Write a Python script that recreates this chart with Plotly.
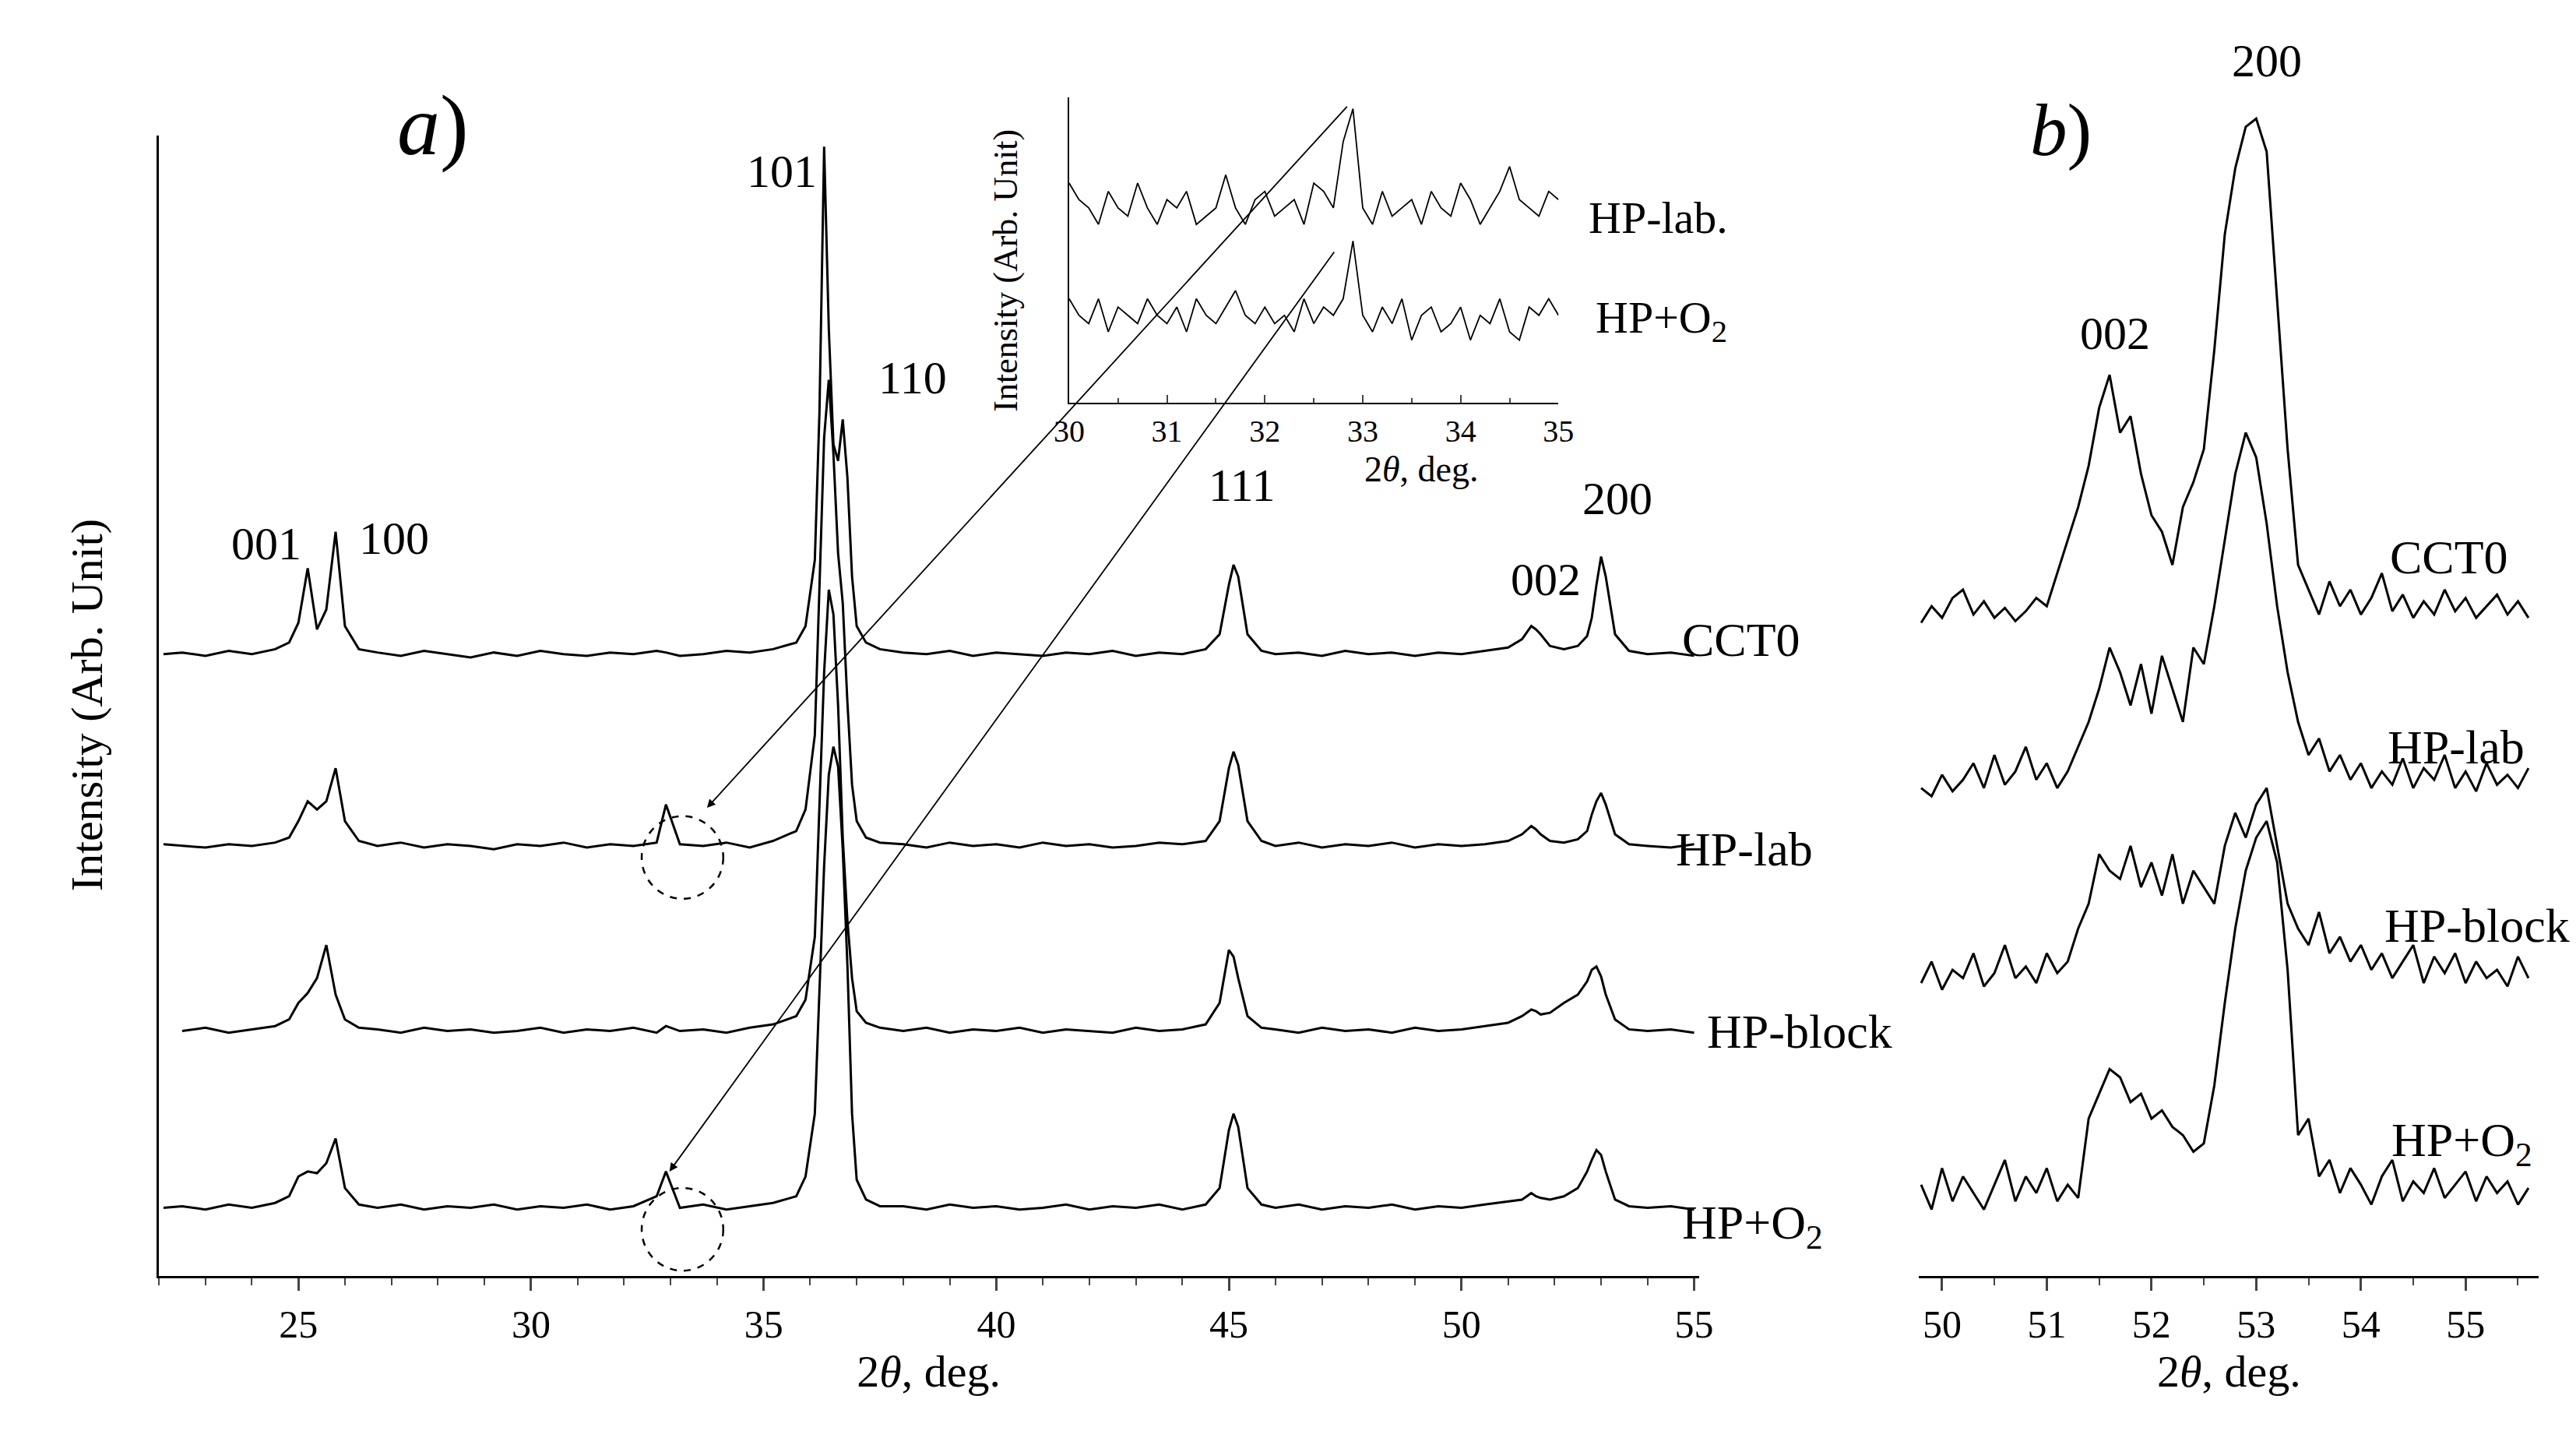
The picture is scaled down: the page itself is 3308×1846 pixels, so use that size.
"""XRD patterns: panel a (wide scan), inset (30-35 deg), panel b (50-55.7 deg)."""
import numpy as np
import plotly.graph_objects as go

FONT = "Liberation Serif"
W, H = 1560, 870  # layout drawn in reference pixel units, scaled on output

# panel a grid (2theta, deg)
X_A = [22.1, 22.5, 23.0, 23.5, 24.0, 24.5,
       24.8, 25.0, 25.2, 25.4, 25.6, 25.8, 26.0, 26.3,
       26.7, 27.2, 27.7, 28.2, 28.7, 29.2, 29.7, 30.2, 30.7, 31.2, 31.7, 32.2,
       32.7, 32.9, 33.2, 33.7, 34.2, 34.7, 35.2, 35.7,
       35.9, 36.1, 36.2, 36.3, 36.4, 36.5, 36.6, 36.7, 36.8, 36.9, 37.0, 37.2, 37.5,
       38.0, 38.5, 39.0, 39.5, 40.0, 40.5, 41.0, 41.5, 42.0, 42.5, 43.0, 43.5, 44.0, 44.5,
       44.8, 45.0, 45.1, 45.2, 45.4, 45.7,
       46.0, 46.5, 47.0, 47.5, 48.0, 48.5, 49.0, 49.5, 50.0, 50.5, 51.0,
       51.3, 51.5, 51.6, 51.7, 51.9, 52.2, 52.5, 52.7, 52.8, 52.9, 53.0, 53.1, 53.3, 53.6,
       54.0, 54.5, 55.0]

CCT0_A = [3, 4, 2, 5, 3, 6,
          10, 22, 55, 18, 30, 77, 20, 6,
          4, 2, 5, 3, 1, 4, 2, 5, 3, 2, 4, 3, 5, 4, 2, 3, 5, 4, 6, 10,
          20, 60, 150, 310, 200, 130, 120, 145, 110, 50, 20, 10, 6,
          4, 3, 5, 2, 4, 3, 2, 4, 3, 5, 2, 4, 3, 6,
          15, 45, 57, 50, 15, 5,
          3, 4, 2, 5, 3, 4, 2, 4, 3, 5, 7,
          12, 20, 18, 15, 8, 6, 8, 14, 25, 45, 62, 50, 15, 5,
          3, 4, 2]
HPLAB_A = [4, 3, 2, 4, 3, 5,
           8, 18, 30, 25, 30, 50, 18, 6,
           3, 5, 2, 4, 3, 1, 4, 3, 5, 2, 4, 3, 5, 28, 4, 3, 5, 2, 6, 12,
           25, 70, 160, 250, 285, 240, 180, 150, 90, 40, 18, 8, 5,
           4, 2, 5, 3, 4, 2, 5, 3, 4, 2, 3, 5, 4, 6,
           18, 50, 60, 52, 18, 6,
           3, 5, 2, 4, 3, 5, 2, 4, 3, 4, 6,
           10, 15, 13, 10, 6, 5, 7, 12, 22, 30, 35, 28, 10, 4,
           3, 2, 4]
HPBLOCK_A = [None, 3, 5, 2, 4, 6,
             10, 20, 26, 35, 55, 25, 10, 5,
             4, 2, 5, 3, 4, 2, 3, 5, 2, 4, 3, 5, 2, 6, 3, 4, 2, 5, 7, 12,
             22, 60, 140, 220, 270, 255, 200, 120, 70, 35, 15, 8, 5,
             3, 5, 2, 4, 3, 5, 2, 4, 3, 2, 5, 3, 4, 7,
             20, 52, 48, 35, 12, 5,
             4, 2, 5, 3, 4, 2, 5, 3, 4, 6, 8,
             12, 16, 15, 13, 14, 20, 25, 33, 40, 42, 36, 25, 10, 4,
             3, 4, 2]
HPO2_A = [3, 4, 2, 5, 3, 6,
          10, 22, 25, 24, 30, 45, 15, 5,
          3, 5, 2, 4, 3, 5, 2, 4, 3, 5, 2, 4, 10, 25, 3, 5, 2, 4, 6, 10,
          22, 60, 140, 210, 265, 282, 270, 220, 150, 60, 20, 8, 4,
          4, 2, 5, 3, 4, 2, 3, 5, 2, 4, 3, 5, 2, 5,
          15, 50, 60, 52, 15, 5,
          3, 5, 2, 4, 3, 5, 2, 4, 3, 5, 7,
          8, 12, 10, 9, 8, 10, 15, 25, 32, 38, 35, 25, 8, 4,
          3, 4, 2]

# panel b grid: 49.8 .. 55.6, step 0.1
X_B = np.round(np.arange(49.8, 55.65, 0.1), 1)
CCT0_B = [5, 15, 8, 20, 25, 10, 18, 8, 14, 6,
          12, 20, 15, 35, 55, 75, 100, 135, 155, 120,
          130, 95, 70, 60, 40, 75, 90, 110, 170, 240,
          280, 305, 310, 290, 200, 110, 40, 25, 10, 30,
          15, 25, 10, 20, 35, 12, 22, 8, 18, 10,
          25, 12, 20, 8, 15, 22, 10, 18, 8]
HPLAB_B = [10, 5, 18, 8, 15, 25, 10, 30, 12, 20,
           35, 15, 25, 10, 20, 35, 50, 70, 95, 80,
           60, 85, 55, 90, 70, 50, 95, 85, 120, 160,
           200, 225, 210, 170, 120, 80, 50, 30, 40, 20,
           30, 15, 25, 10, 20, 12, 28, 10, 22, 15,
           30, 10, 20, 8, 25, 12, 18, 10, 22]
HPBLOCK_B = [12, 25, 8, 20, 15, 30, 10, 18, 35, 15,
             22, 12, 30, 18, 25, 45, 60, 90, 80, 75,
             95, 70, 85, 65, 90, 60, 80, 70, 60, 95,
             115, 100, 120, 130, 95, 60, 45, 35, 55, 30,
             40, 25, 35, 20, 30, 15, 25, 35, 12, 28,
             18, 30, 12, 25, 15, 20, 10, 28, 15]
HPO2_B = [20, 5, 30, 10, 25, 15, 5, 20, 35, 10,
          25, 15, 30, 10, 20, 12, 60, 75, 90, 85,
          70, 75, 60, 65, 55, 50, 40, 45, 80, 130,
          175, 210, 230, 240, 215, 150, 50, 60, 25, 35,
          15, 30, 20, 8, 25, 35, 10, 22, 15, 30,
          12, 20, 28, 10, 25, 15, 22, 8, 18]

# inset grid: 30 .. 35, step 0.1
X_IN = np.round(np.arange(30.0, 35.05, 0.1), 1)
HPLAB_IN = [165, 155, 150, 140, 160, 150, 145, 165, 150, 140,
            155, 150, 160, 140, 145, 150, 170, 150, 140, 155,
            160, 145, 150, 155, 140, 165, 160, 150, 190, 210,
            150, 140, 160, 145, 150, 155, 140, 160, 150, 145,
            165, 155, 140, 150, 160, 175, 155, 150, 145, 160,
            155]
HPO2_IN = [95, 85, 80, 95, 75, 90, 85, 80, 95, 85,
           80, 90, 75, 95, 85, 80, 90, 100, 85, 80,
           90, 80, 85, 75, 95, 80, 90, 85, 95, 130,
           85, 75, 90, 80, 95, 70, 85, 90, 75, 80,
           90, 70, 85, 80, 95, 75, 70, 90, 85, 95,
           85]

OFFS_A = [373, 257, 145, 38]
OFFS_B = [390, 285, 165, 35]
NAMES = ["CCT0", "HP-lab", "HP-block", "HP+O<sub>2</sub>"]

BOT = 768  # bottom axis, reference px
XA_RANGE = [22.0, 55.1]
XA_DOM = [84, 1028]


def px(x):
    return x / W


def py(y):
    return 1 - y / H


LINE = dict(color="black", width=3)
fig = go.Figure()
for ys, off in zip([CCT0_A, HPLAB_A, HPBLOCK_A, HPO2_A], OFFS_A):
    fig.add_trace(go.Scatter(x=X_A, y=[None if v is None else v + off for v in ys],
                             mode="lines", line=LINE, xaxis="x", yaxis="y",
                             showlegend=False))
for ys, off in zip([CCT0_B, HPLAB_B, HPBLOCK_B, HPO2_B], OFFS_B):
    fig.add_trace(go.Scatter(x=X_B, y=[v + off for v in ys], mode="lines",
                             line=LINE, xaxis="x2", yaxis="y2", showlegend=False))
for ys in [HPLAB_IN, HPO2_IN]:
    fig.add_trace(go.Scatter(x=X_IN, y=ys, mode="lines",
                             line=dict(color="black", width=1.8),
                             xaxis="x3", yaxis="y3", showlegend=False))

tickfont = dict(family=FONT, size=50, color="black")
common_x = dict(showline=True, linecolor="black", linewidth=3, ticks="outside",
                ticklen=16, tickwidth=3, showgrid=False, zeroline=False,
                tickfont=tickfont, title_font=dict(family=FONT, size=58, color="black"),
                title_standoff=0)
fig.update_layout(
    width=3308, height=1846, paper_bgcolor="white", plot_bgcolor="white",
    margin=dict(l=0, r=0, t=0, b=0),
    xaxis=dict(domain=[px(XA_DOM[0]), px(XA_DOM[1])], range=XA_RANGE, dtick=5,
               minor=dict(dtick=1, ticks="outside", ticklen=9, tickwidth=2),
               title_text="2<i>θ</i>, deg.", **common_x),
    yaxis=dict(domain=[py(BOT), py(BOT - 690)], range=[0, 690], showline=True,
               linecolor="black", linewidth=3, showticklabels=False, ticks="",
               showgrid=False, zeroline=False),
    xaxis2=dict(domain=[px(1163), px(1543)], range=[49.78, 55.7], dtick=1,
                minor=dict(dtick=0.5, ticks="outside", ticklen=9, tickwidth=2),
                title_text="2<i>θ</i>, deg.", anchor="y2", **common_x),
    yaxis2=dict(domain=[py(BOT), py(BOT - 740)], range=[0, 740], visible=False),
    xaxis3=dict(domain=[px(642), px(942)], range=[30, 35], dtick=1, anchor="y3",
                showline=True, linecolor="black", linewidth=2, ticks="inside",
                ticklen=10, tickwidth=2, showgrid=False, zeroline=False,
                minor=dict(dtick=0.5, ticks="inside", ticklen=6),
                tickfont=dict(family=FONT, size=40, color="black")),
    yaxis3=dict(domain=[py(240), py(55)], range=[32, 217], anchor="x3",
                showline=True, linecolor="black", linewidth=2,
                showticklabels=False, ticks="", showgrid=False, zeroline=False),
)


def label(text, x, y, size, **kw):
    fig.add_annotation(text=text, x=px(x), y=py(y), xref="paper", yref="paper",
                       xanchor="center", yanchor="middle", showarrow=False,
                       font=dict(family=FONT, size=size, color="black"), **kw)


label("<i>a</i>)", 252, 72, 110)
label("<i>b</i>)", 1250, 75, 95)
for t, x, y in [("001", 150, 325), ("100", 228, 322), ("101", 466, 100),
                ("110", 546, 225), ("111", 748, 290), ("002", 934, 347),
                ("200", 978, 298), ("002", 1283, 198), ("200", 1376, 33)]:
    label(t, x, y, 60)
for t, x, y in zip(NAMES, [1054, 1056, 1090, 1061], [383, 510, 620, 738]):
    label(t, x, y, 62)
for t, x, y in zip(NAMES, [1488, 1492, 1505, 1496], [333, 448, 556, 688]):
    label(t, x, y, 62)
label("HP-lab.", 1003, 128, 58)
label("HP+O<sub>2</sub>", 1005, 190, 58)
label("Intensity (Arb. Unit)", 40, 423, 58, textangle=-90)
label("Intensity (Arb. Unit)", 603, 160, 44, textangle=-90)
label("2<i>θ</i>, deg.", 858, 280, 46)


def ax_x(p):
    # reference px -> 2theta on panel a
    return XA_RANGE[0] + (p - XA_DOM[0]) * (XA_RANGE[1] - XA_RANGE[0]) / (XA_DOM[1] - XA_DOM[0])


# arrows from the inset down to the small spikes
for (hx, hy), (tx, ty) in [((420, 485), (813, 60)), ((397, 705), (805, 148))]:
    fig.add_annotation(x=ax_x(hx), y=BOT - hy, ax=ax_x(tx), ay=BOT - ty,
                       xref="x", yref="y", axref="x", ayref="y", text="",
                       showarrow=True, arrowhead=2, arrowsize=1.2, arrowwidth=1.8,
                       arrowcolor="black")

for cy in [515, 740]:
    fig.add_shape(type="circle", xref="paper", yref="paper",
                  x0=px(380), x1=px(430), y0=py(cy + 25), y1=py(cy - 25),
                  line=dict(color="black", width=2.5, dash="dash"))

fig.write_html("out.html")
